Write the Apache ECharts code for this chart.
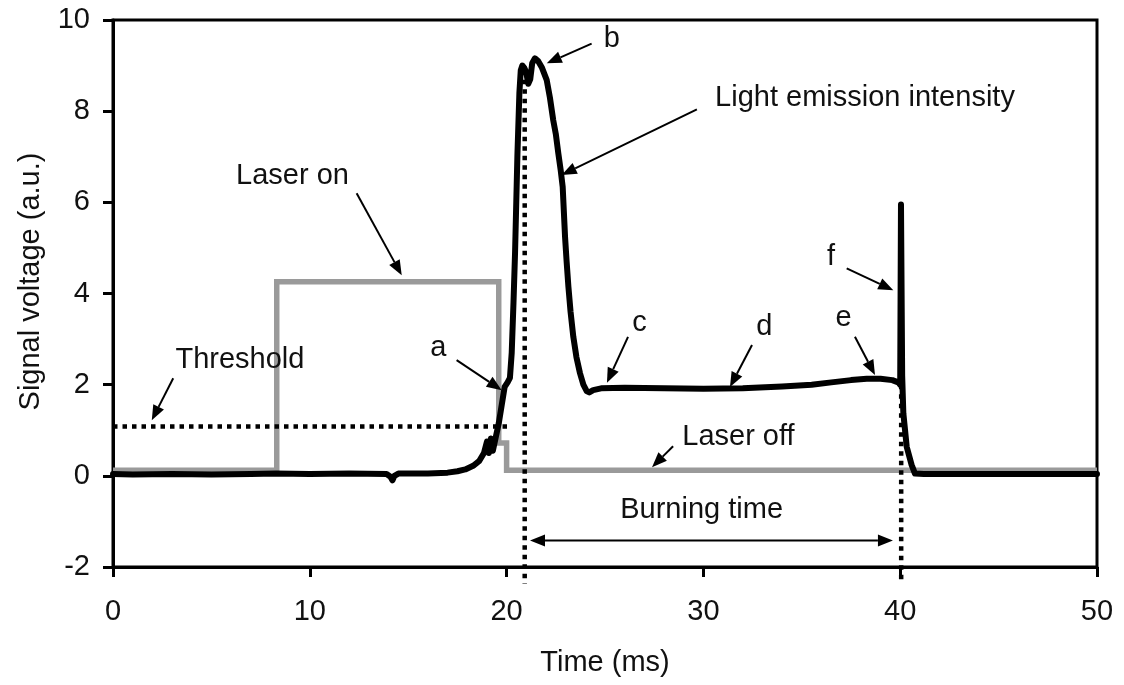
<!DOCTYPE html>
<html>
<head>
<meta charset="utf-8">
<style>
  html, body { margin: 0; padding: 0; background: #fff; }
  #chart { width: 1124px; height: 685px; }
</style>
<script src="https://cdn.jsdelivr.net/npm/echarts@6/dist/echarts.min.js"></script>
</head>
<body>
<div id="chart"></div>
<script>
// Light emission trace [time ms, signal V]
const emissionTrace = [
  [0, 0.04], [1, 0.03], [3, 0.04], [5, 0.03], [7, 0.04], [8.3, 0.05], [10, 0.04],
  [12, 0.05], [13.9, 0.04], [14.1, -0.02], [14.2, -0.1], [14.3, 0.0], [14.5, 0.05],
  [16, 0.05], [17, 0.07], [17.5, 0.1], [17.9, 0.14], [18.3, 0.22], [18.6, 0.32],
  [18.85, 0.5], [19.0, 0.75], [19.1, 0.5], [19.2, 0.82], [19.3, 0.55], [19.45, 0.85],
  [19.6, 1.15], [19.75, 1.55], [19.9, 1.95], [20.05, 2.05], [20.17, 2.15], [20.26, 2.7],
  [20.35, 3.8], [20.43, 4.9], [20.55, 7.05], [20.65, 8.4], [20.72, 8.9], [20.8, 9.0],
  [20.9, 8.95], [21.0, 8.85], [21.1, 8.6], [21.2, 8.7], [21.3, 9.05], [21.44, 9.16],
  [21.6, 9.1], [21.8, 8.95], [22.04, 8.68], [22.2, 8.3], [22.37, 7.8], [22.5, 7.5],
  [22.63, 7.07], [22.75, 6.7], [22.85, 6.34], [22.97, 5.24], [23.05, 4.7], [23.14, 4.15],
  [23.25, 3.6], [23.39, 3.05], [23.55, 2.6], [23.73, 2.25], [23.9, 2.0], [24.07, 1.86],
  [24.2, 1.83], [24.4, 1.88], [24.8, 1.92], [26, 1.93], [28, 1.92], [30, 1.91],
  [32, 1.92], [34, 1.96], [35.5, 2.0], [36.5, 2.05], [37.5, 2.1], [38.3, 2.13],
  [39, 2.13], [39.6, 2.1], [39.9, 2.05], [40.0, 2.0], [40.04, 5.95], [40.1, 2.2],
  [40.16, 1.37], [40.33, 0.64], [40.58, 0.24], [40.75, 0.05], [41.2, 0.04], [43, 0.04],
  [46, 0.04], [50, 0.04]
];

// Laser gate signal [time ms, signal V]
const laserTrace = [
  [0, 0.12], [8.32, 0.12], [8.32, 4.26], [19.6, 4.26], [19.6, 0.72],
  [20.0, 0.72], [20.0, 0.12], [50, 0.12]
];

// Threshold level and the start / end markers of the burning time
const thresholdLine = [[0, 1.08], [20.17, 1.08]];
const burnStartLine = [[20.92, 8.9], [20.92, -2.37]];
const burnEndLine = [[40.05, 2.0], [40.05, -2.37]];

// Axis settings
const xTicks = { min: 0, max: 50, step: 10 };
const yTicks = { min: -2, max: 10, step: 2 };

// Annotation texts and their anchor points [time, signal]
const noteTexts = ['b', 'Light emission intensity', 'Laser on', 'Threshold', 'a',
  'c', 'd', 'e', 'f', 'Laser off', 'Burning time'];
const notePoints = [
  [25.34, 9.58], [38.21, 8.28], [9.12, 6.57], [6.45, 2.54], [16.53, 2.80],
  [26.75, 3.35], [33.1, 3.27], [37.12, 3.46], [36.48, 4.80], [31.78, 0.85], [29.91, -0.75]
];

// Arrows: start point, tip point, double-headed flag
const arrowStarts = [
  [24.32, 9.48], [29.67, 8.04], [12.38, 6.20], [3.06, 2.14], [17.46, 2.54],
  [26.17, 3.05], [32.47, 2.87], [37.70, 3.05], [37.28, 4.55], [28.46, 0.65], [21.19, -1.42]
];
const arrowTips = [
  [22.04, 9.05], [22.80, 6.60], [14.67, 4.40], [1.97, 1.22], [19.75, 1.88],
  [25.10, 2.04], [31.35, 1.95], [38.72, 2.21], [39.65, 4.07], [27.39, 0.19], [39.63, -1.42]
];
const arrowDouble = [0, 0, 0, 0, 0, 0, 0, 0, 0, 0, 1];

const FONT_FAMILY = "'Liberation Sans', Arial, sans-serif";
const FONT_SIZE = 29;
const TEXT_COLOR = '#111';

const chart = echarts.init(document.getElementById('chart'), null, { renderer: 'canvas' });

const arrowData = arrowStarts.map((s, i) => [s[0], s[1], arrowTips[i][0], arrowTips[i][1], arrowDouble[i]]);
const noteData = notePoints.map((p, i) => [p[0], p[1], i]);

function headPoints(tip, from, len, half) {
  const dx = tip[0] - from[0], dy = tip[1] - from[1];
  const d = Math.sqrt(dx * dx + dy * dy) || 1;
  const ux = dx / d, uy = dy / d;
  const bx = tip[0] - ux * len, by = tip[1] - uy * len;
  return {
    poly: [tip, [bx - uy * half, by + ux * half], [bx + uy * half, by - ux * half]],
    base: [bx, by]
  };
}

function renderArrow(params, api) {
  const p1 = api.coord([api.value(0), api.value(1)]);
  const p2 = api.coord([api.value(2), api.value(3)]);
  const dbl = api.value(4) === 1;
  const len = 15, half = 6;
  const h2 = headPoints(p2, p1, len, half);
  const children = [];
  let start = p1;
  if (dbl) {
    const h1 = headPoints(p1, p2, len, half);
    start = h1.base;
    children.push({ type: 'polygon', shape: { points: h1.poly }, style: { fill: '#000' } });
  }
  children.push({
    type: 'line',
    shape: { x1: start[0], y1: start[1], x2: h2.base[0], y2: h2.base[1] },
    style: { stroke: '#000', lineWidth: 2 }
  });
  children.push({ type: 'polygon', shape: { points: h2.poly }, style: { fill: '#000' } });
  return { type: 'group', children };
}

function renderNote(params, api) {
  const p = api.coord([api.value(0), api.value(1)]);
  return {
    type: 'text',
    x: p[0], y: p[1],
    style: {
      text: noteTexts[api.value(2)],
      fontSize: FONT_SIZE, fontFamily: FONT_FAMILY,
      fill: TEXT_COLOR, align: 'center', verticalAlign: 'middle'
    }
  };
}

const dotted = { color: '#000', width: 4.5, type: [4.5, 5], cap: 'butt' };

chart.setOption({
  animation: false,
  backgroundColor: '#fff',
  grid: {
    left: 113, right: 27, top: 20, bottom: 118,
    show: true, borderColor: '#000', borderWidth: 3, backgroundColor: 'transparent'
  },
  xAxis: {
    type: 'value',
    min: xTicks.min, max: xTicks.max, interval: xTicks.step,
    name: 'Time (ms)', nameLocation: 'middle', nameGap: 81,
    nameTextStyle: { fontSize: FONT_SIZE, color: TEXT_COLOR, fontFamily: FONT_FAMILY },
    axisLine: { onZero: false, lineStyle: { color: '#000', width: 3 } },
    axisTick: { show: true, inside: false, length: 10, lineStyle: { color: '#000', width: 3 } },
    axisLabel: { fontSize: FONT_SIZE, color: TEXT_COLOR, fontFamily: FONT_FAMILY, margin: 30 },
    splitLine: { show: false }
  },
  yAxis: {
    type: 'value',
    min: yTicks.min, max: yTicks.max, interval: yTicks.step,
    name: 'Signal voltage (a.u.)', nameLocation: 'middle', nameGap: 68,
    nameTextStyle: {
      fontSize: FONT_SIZE, color: TEXT_COLOR, fontFamily: FONT_FAMILY,
      padding: [0, 0, 0, 24]
    },
    axisLine: { onZero: false, lineStyle: { color: '#000', width: 3 } },
    axisTick: { show: true, inside: false, length: 10, lineStyle: { color: '#000', width: 3 } },
    axisLabel: { fontSize: FONT_SIZE, color: TEXT_COLOR, fontFamily: FONT_FAMILY, margin: 23 },
    splitLine: { show: false }
  },
  series: [
    {
      name: 'Laser', type: 'line', data: laserTrace, showSymbol: false, symbol: 'none',
      lineStyle: { color: '#9a9a9a', width: 5.5, join: 'miter' }, z: 2
    },
    {
      name: 'Light emission', type: 'line', data: emissionTrace, showSymbol: false, symbol: 'none',
      lineStyle: { color: '#000', width: 6, join: 'round', cap: 'round' }, z: 3
    },
    {
      name: 'Threshold', type: 'line', data: thresholdLine, showSymbol: false, symbol: 'none',
      lineStyle: dotted, z: 4
    },
    {
      name: 'Burn start', type: 'line', data: burnStartLine, showSymbol: false, symbol: 'none',
      clip: false, lineStyle: dotted, z: 4
    },
    {
      name: 'Burn end', type: 'line', data: burnEndLine, showSymbol: false, symbol: 'none',
      clip: false, lineStyle: dotted, z: 4
    },
    {
      name: 'Arrows', type: 'custom', renderItem: renderArrow, data: arrowData,
      clip: false, silent: true, z: 5,
      encode: { x: [0, 2], y: [1, 3] }
    },
    {
      name: 'Notes', type: 'custom', renderItem: renderNote, data: noteData,
      clip: false, silent: true, z: 6,
      encode: { x: 0, y: 1 }
    }
  ]
});
</script>
</body>
</html>
